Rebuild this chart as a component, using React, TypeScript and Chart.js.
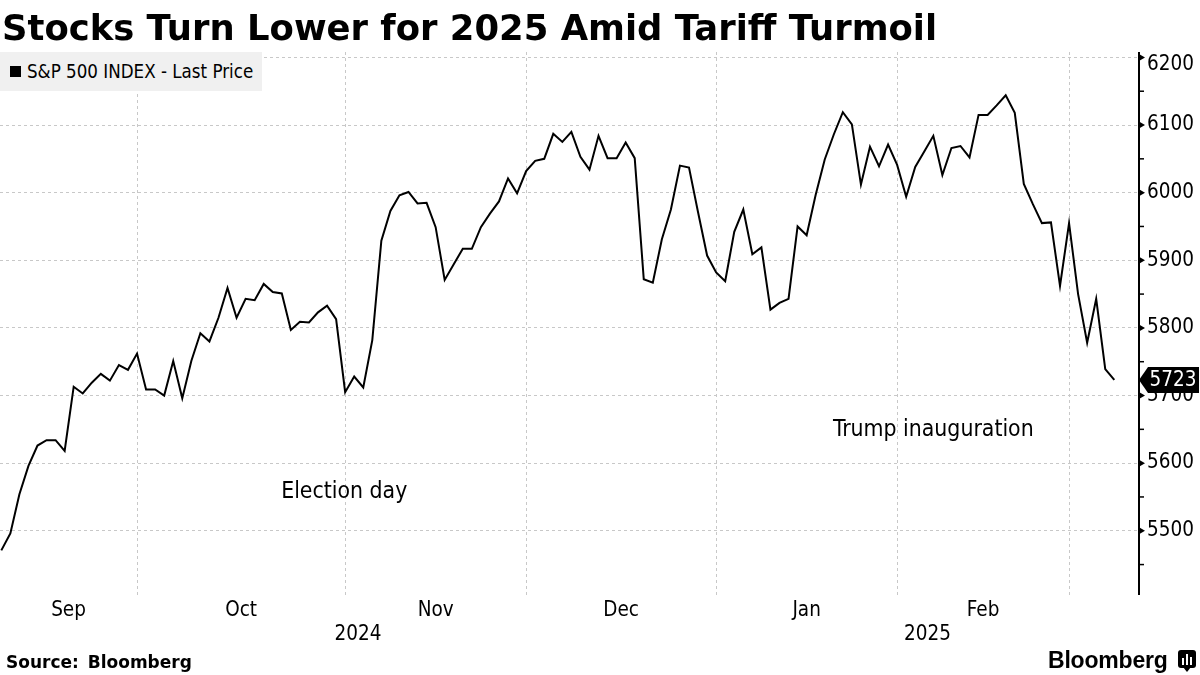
import React, { useEffect, useRef } from 'react';
import { Chart, registerables } from 'chart.js';

Chart.register(...registerables);

// ---- Data (S&P 500 daily closes) ----
const sep2024 = [5471, 5496, 5554, 5596, 5626, 5634, 5634, 5618, 5713, 5703, 5719, 5732, 5722, 5745, 5738, 5762];
const oct2024 = [5709, 5709, 5700, 5751, 5696, 5751, 5792, 5780, 5815, 5859, 5815, 5843, 5841, 5865, 5853, 5851, 5797, 5809, 5808, 5823, 5833, 5813, 5705];
const nov2024 = [5728, 5712, 5782, 5929, 5973, 5996, 6001, 5984, 5985, 5949, 5871, 5894, 5917, 5917, 5949, 5969, 5987, 6021, 5999, 6032];
const dec2024 = [6047, 6050, 6087, 6075, 6090, 6053, 6034, 6084, 6051, 6051, 6074, 6051, 5872, 5867, 5931, 5975, 6040, 6037, 5971, 5907, 5882];
const jan2025 = [5869, 5942, 5975, 5909, 5919, 5827, 5837, 5843, 5950, 5937, 5997, 6049, 6086, 6119, 6101, 6012, 6068, 6039, 6071, 6041];
const feb2025 = [5994, 6038, 6061, 6084, 6026, 6066, 6069, 6052, 6115, 6115, 6129, 6144, 6118, 6013, 5983, 5955, 5956, 5862, 5955];
const mar2025 = [5850, 5778, 5843, 5739, 5723];

const monthSeries = [sep2024, oct2024, nov2024, dec2024, jan2025, feb2025, mar2025];
const monthNames = ['Sep', 'Oct', 'Nov', 'Dec', 'Jan', 'Feb', 'Mar'];
const monthYears = [2024, 2024, 2024, 2024, 2025, 2025, 2025];
const yearLabels = ['2024', '2025'];
const yTickValues = [5500, 5600, 5700, 5800, 5900, 6000, 6100, 6200];

const titleText = 'Stocks Turn Lower for 2025 Amid Tariff Turmoil';
const seriesName = 'S&P 500 INDEX - Last Price';
const sourceText = 'Source: Bloomberg';

const annotationTexts = ['Election day', 'Trump inauguration'];
const annotationIdx = [37.9, 103.0];
const annotationValues = [5557, 5649];

const Y_MIN = 5405;
const Y_MAX = 6208;
const X_MIN = -0.144;
const X_MAX = 125.73;

const COND = '"DejaVu Sans Condensed", "DejaVu Sans", sans-serif';

const values: number[] = monthSeries.flat();
const lastValue = values[values.length - 1];
const monthEnds: number[] = [];
{
  let c = 0;
  for (const m of monthSeries) {
    c += m.length;
    monthEnds.push(c - 1);
  }
}
// boundaries drawn at the last trading day of each complete month
const gridIdx = monthEnds.slice(0, monthEnds.length - 1);
const topTick = yTickValues[yTickValues.length - 1];

const overlayPlugin = {
  id: 'overlay',
  afterDraw(chart: any) {
    const { ctx, chartArea: a, scales } = chart;
    const xs = scales.x;
    const ys = scales.y;
    ctx.save();

    // y axis line
    ctx.strokeStyle = '#000';
    ctx.fillStyle = '#000';
    ctx.lineWidth = 2;
    ctx.beginPath();
    ctx.moveTo(a.right, a.top);
    ctx.lineTo(a.right, a.bottom);
    ctx.stroke();

    // minor ticks
    ctx.lineWidth = 1.5;
    for (const v of yTickValues) {
      const mv = v - 50;
      if (mv < Y_MIN) continue;
      const py = ys.getPixelForValue(mv);
      ctx.beginPath();
      ctx.moveTo(a.right, py);
      ctx.lineTo(a.right + 5, py);
      ctx.stroke();
    }
    // major tick triangles
    for (const v of yTickValues) {
      const py = ys.getPixelForValue(v);
      ctx.beginPath();
      ctx.moveTo(a.right, py - 3.5);
      ctx.lineTo(a.right + 6, py);
      ctx.lineTo(a.right, py + 3.5);
      ctx.closePath();
      ctx.fill();
    }

    // top tick label (kept inside the canvas like the original)
    ctx.font = `20.5px ${COND}`;
    ctx.textAlign = 'left';
    ctx.textBaseline = 'middle';
    ctx.fillText(String(topTick), a.right + 8, Math.max(ys.getPixelForValue(topTick), a.top + 13));

    // month labels
    ctx.font = `20.5px ${COND}`;
    ctx.textAlign = 'center';
    ctx.textBaseline = 'middle';
    let prev = a.left;
    for (let i = 0; i < gridIdx.length; i++) {
      const px = xs.getPixelForValue(gridIdx[i]);
      ctx.fillText(monthNames[i], (prev + px) / 2, 611);
      prev = px;
    }
    // year labels
    const yearSplit = monthYears.indexOf(2025) - 1;
    const splitPx = xs.getPixelForValue(monthEnds[yearSplit]);
    ctx.fillText(yearLabels[0], (a.left + splitPx) / 2, 635);
    ctx.fillText(yearLabels[1], (splitPx + a.right) / 2, 635);

    // annotations
    ctx.font = `22.8px ${COND}`;
    for (let i = 0; i < annotationTexts.length; i++) {
      ctx.fillText(
        annotationTexts[i],
        xs.getPixelForValue(annotationIdx[i]),
        ys.getPixelForValue(annotationValues[i])
      );
    }

    // last price tag
    const ty = ys.getPixelForValue(lastValue);
    const tipX = a.right;
    ctx.fillStyle = '#000';
    ctx.beginPath();
    ctx.moveTo(tipX, ty);
    ctx.lineTo(tipX + 9, ty - 13);
    ctx.lineTo(1199, ty - 13);
    ctx.lineTo(1199, ty + 13);
    ctx.lineTo(tipX + 9, ty + 13);
    ctx.closePath();
    ctx.fill();
    ctx.fillStyle = '#fff';
    ctx.font = `20.5px ${COND}`;
    ctx.textAlign = 'center';
    ctx.fillText(String(lastValue), 1173, ty + 1);

    ctx.restore();
  },
};

function ChartCanvas() {
  const ref = useRef<HTMLCanvasElement | null>(null);
  useEffect(() => {
    if (!ref.current) return;
    const chart = new Chart(ref.current, {
      type: 'line',
      data: {
        datasets: [
          {
            label: seriesName,
            data: values.map((v, i) => ({ x: i, y: v })),
            borderColor: '#000',
            borderWidth: 2,
            pointRadius: 0,
            tension: 0,
            fill: false,
          },
        ],
      },
      options: {
        animation: false,
        responsive: false,
        maintainAspectRatio: false,
        layout: { padding: { top: 52, left: 0, right: 0, bottom: 0 } },
        plugins: { legend: { display: false }, tooltip: { enabled: false } },
        scales: {
          x: {
            type: 'linear',
            min: X_MIN,
            max: X_MAX,
            afterBuildTicks: (scale: any) => {
              scale.ticks = gridIdx.map((v) => ({ value: v }));
            },
            afterFit: (scale: any) => {
              scale.height = 80;
            },
            ticks: { display: false },
            grid: { color: '#c8c8c8', lineWidth: 1, drawTicks: false },
            border: { display: false, dash: [3, 3] },
          },
          y: {
            position: 'right',
            min: Y_MIN,
            max: Y_MAX,
            afterBuildTicks: (scale: any) => {
              scale.ticks = yTickValues.map((v) => ({ value: v }));
            },
            afterFit: (scale: any) => {
              scale.width = 61;
            },
            ticks: {
              padding: 8,
              color: '#000',
              font: { family: COND, size: 20.5 },
              callback: (v: any) => (v === topTick ? '' : String(v)),
            },
            grid: { color: '#c8c8c8', lineWidth: 1, drawTicks: false },
            border: { display: false, dash: [3, 3] },
          },
        },
      } as any,
      plugins: [overlayPlugin],
    });
    return () => chart.destroy();
  }, []);
  return <canvas ref={ref} width={1200} height={675} style={{ position: 'absolute', left: 0, top: 0 }} />;
}

export default function App() {
  useEffect(() => {
    document.body.style.margin = '0';
  }, []);
  return (
    <div style={{ position: 'relative', width: 1200, height: 675, background: '#fff', overflow: 'hidden' }}>
      <ChartCanvas />
      <div
        style={{
          position: 'absolute',
          left: 2,
          top: 10,
          font: 'bold 35.4px "DejaVu Sans", sans-serif',
          lineHeight: '36px',
          whiteSpace: 'nowrap',
          color: '#000',
        }}
      >
        {titleText}
      </div>
      <div
        style={{
          position: 'absolute',
          left: 0,
          top: 52,
          width: 262,
          height: 39,
          background: '#f0f0f0',
        }}
      >
        <div style={{ position: 'absolute', left: 10, top: 14, width: 11, height: 11, background: '#000' }} />
        <div
          style={{
            position: 'absolute',
            left: 27,
            top: 9,
            font: `18.6px ${COND}`,
            lineHeight: '22px',
            whiteSpace: 'nowrap',
            color: '#000',
          }}
        >
          {seriesName}
        </div>
      </div>
      <div
        style={{
          position: 'absolute',
          left: 6,
          top: 651,
          font: 'bold 17px "DejaVu Sans", sans-serif',
          lineHeight: '22px',
          whiteSpace: 'nowrap',
          color: '#000',
          wordSpacing: '3px',
        }}
      >
        {sourceText}
      </div>
      <div
        style={{
          position: 'absolute',
          left: 1048,
          top: 646,
          font: 'bold 23px "Liberation Sans", Arial, sans-serif',
          lineHeight: '28px',
          whiteSpace: 'nowrap',
          color: '#000',
          letterSpacing: '-0.2px',
        }}
      >
        Bloomberg
      </div>
      <div
        style={{
          position: 'absolute',
          left: 1178,
          top: 650,
          width: 18,
          height: 18,
          background: '#000',
          borderRadius: 3,
        }}
      >
        <div style={{ position: 'absolute', left: 4, top: 8, width: 2, height: 7, background: '#fff' }} />
        <div style={{ position: 'absolute', left: 8, top: 4, width: 2, height: 11, background: '#fff' }} />
        <div style={{ position: 'absolute', left: 12, top: 7, width: 2, height: 8, background: '#fff' }} />
      </div>
      <div
        style={{
          position: 'absolute',
          left: 1183,
          top: 667,
          width: 0,
          height: 0,
          borderLeft: '4px solid transparent',
          borderRight: '4px solid transparent',
          borderTop: '5px solid #000',
        }}
      />
    </div>
  );
}
